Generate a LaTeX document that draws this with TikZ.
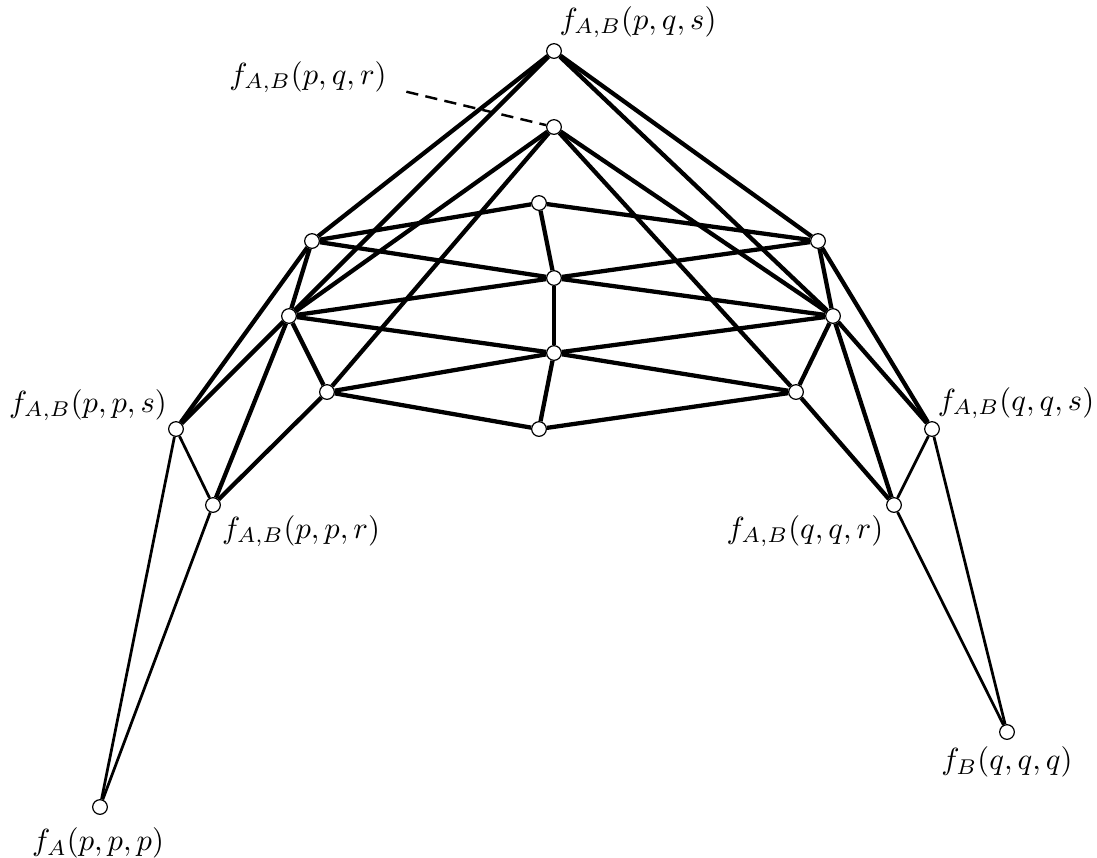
\documentclass[tikz,border=0pt]{standalone}
\usepackage{amsmath,amssymb}
\usetikzlibrary{backgrounds}
\begin{document}
\begin{tikzpicture}[x=0.0115cm,y=-0.0115cm,line cap=round,
  vtx/.style={circle,draw,fill=white,inner sep=0pt,minimum size=4.8pt,line width=0.4pt},
  bar/.style={line width=1.4pt},
  leg/.style={line width=0.9pt}]
\useasboundingbox (0,0) rectangle (1097,857);
\node[vtx] (pqs) at (554,51) {};
\node[vtx] (pqr) at (554,127) {};
\node[vtx] (mc1) at (539,203) {};
\node[vtx] (mc2) at (554,278) {};
\node[vtx] (mc3) at (554,353) {};
\node[vtx] (mc4) at (539,429) {};
\node[vtx] (ml1) at (312,241) {};
\node[vtx] (ml2) at (289,316) {};
\node[vtx] (ml3) at (327,392) {};
\node[vtx] (mr1) at (818,241) {};
\node[vtx] (mr2) at (833,316) {};
\node[vtx] (mr3) at (796,392) {};
\node[vtx] (pps) at (176,429) {};
\node[vtx] (ppr) at (213,505) {};
\node[vtx] (qqs) at (932,429) {};
\node[vtx] (qqr) at (894,505) {};
\node[vtx] (ppp) at (100,807) {};
\node[vtx] (qqq) at (1007,732) {};
\node (lpqs) at (638,22) {$f_{A,B}(p,q,s)$};
\node (lpqr) at (308,77) {$f_{A,B}(p,q,r)$};
\node (lpps) at (88,405) {$f_{A,B}(p,p,s)$};
\node (lppr) at (301,531) {$f_{A,B}(p,p,r)$};
\node (lqqs) at (1016,403) {$f_{A,B}(q,q,s)$};
\node (lqqr) at (805,531) {$f_{A,B}(q,q,r)$};
\node (lppp) at (98,843) {$f_A(p,p,p)$};
\node (lqqq) at (1007,762) {$f_B(q,q,q)$};
\begin{scope}[on background layer]
\foreach \a/\b in {pqs/ml1,pqs/ml2,pqs/mr1,pqs/mr2,pqr/ml2,pqr/ml3,pqr/mr2,pqr/mr3,
  mc1/ml1,mc1/mr1,mc1/mc2,mc2/ml1,mc2/mr1,mc2/ml2,mc2/mr2,mc2/mc3,
  mc3/ml2,mc3/mr2,mc3/ml3,mc3/mr3,mc3/mc4,mc4/ml3,mc4/mr3,
  ml1/ml2,ml2/ml3,mr1/mr2,mr2/mr3,ml1/pps,ml2/pps,ml2/ppr,ml3/ppr,
  mr1/qqs,mr2/qqs,mr2/qqr,mr3/qqr}
  \draw[bar] (\a) -- (\b);
\foreach \a/\b in {pps/ppr,pps/ppp,ppr/ppp,qqs/qqr,qqs/qqq,qqr/qqq}
  \draw[leg] (\a) -- (\b);
\draw[thick,dash pattern=on 4pt off 2.4pt,shorten <=3pt] (lpqr.-8) -- (pqr);
\end{scope}
\end{tikzpicture}
\end{document}
